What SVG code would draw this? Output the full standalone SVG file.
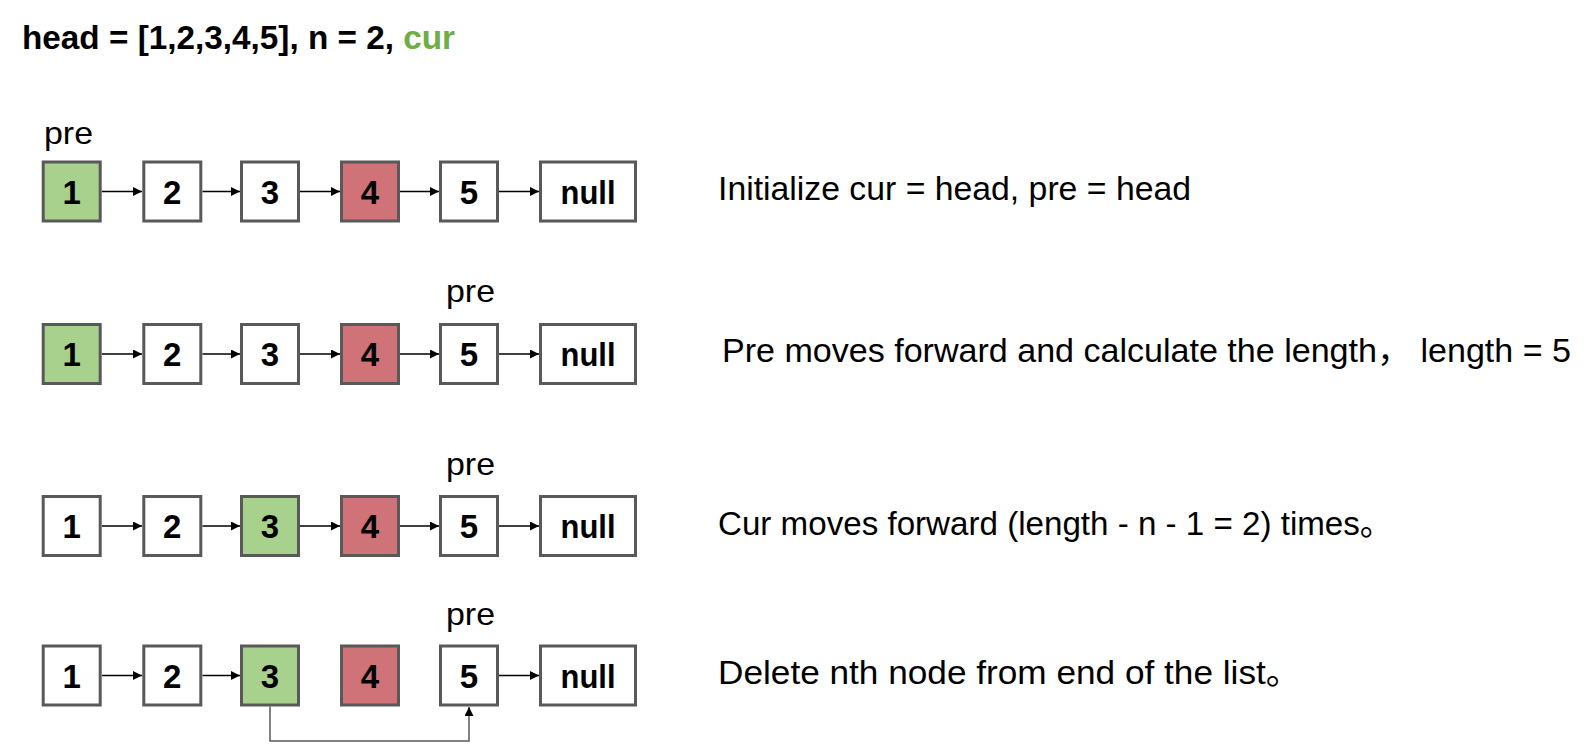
<svg xmlns="http://www.w3.org/2000/svg" width="1594" height="744" viewBox="0 0 1594 744">
<defs>
<style>
.box{stroke:#595959;stroke-width:3;fill:#ffffff}
.g{fill:#a9d18e}
.r{fill:#cf7378}
.lbl{font-family:"Liberation Sans","Noto Sans CJK SC",sans-serif;font-weight:bold;font-size:33px;text-anchor:middle;fill:#000}
.pre{font-family:"Liberation Sans",sans-serif;font-size:32px;fill:#000}
.desc{font-family:"Liberation Sans","Noto Sans CJK SC",sans-serif;font-size:34px;fill:#000}
.hd{font-family:"Liberation Sans",sans-serif;font-weight:bold;font-size:33px;fill:#000}
.ar{stroke:#000;stroke-width:1.4;fill:none;marker-end:url(#ah)}
.by{stroke:#595959;stroke-width:1.5;fill:none;marker-end:url(#ah)}
</style>
<marker id="ah" viewBox="0 0 10 10" refX="10" refY="5" markerWidth="9" markerHeight="9" markerUnits="userSpaceOnUse" orient="auto">
<path d="M0,0 L10,5 L0,10 z" fill="#000"/>
</marker>
</defs>
<rect width="1594" height="744" fill="#fff"/>
<text class="hd" x="22" y="49" textLength="433" lengthAdjust="spacingAndGlyphs">head = [1,2,3,4,5], n = 2, <tspan fill="#70ad47">cur</tspan></text>

<!-- Row 1 -->
<g id="row1">
<text class="pre" x="44" y="144" textLength="49" lengthAdjust="spacingAndGlyphs">pre</text>
<g id="r1n1"><rect class="box g" x="43.2" y="162" width="57" height="59"/><text class="lbl" x="71.7" y="203.5">1</text></g>
<g id="r1n2"><rect class="box" x="143.8" y="162" width="57" height="59"/><text class="lbl" x="172.3" y="203.5">2</text></g>
<g id="r1n3"><rect class="box" x="241.5" y="162" width="57" height="59"/><text class="lbl" x="270" y="203.5">3</text></g>
<g id="r1n4"><rect class="box r" x="341.5" y="162" width="57" height="59"/><text class="lbl" x="370" y="203.5">4</text></g>
<g id="r1n5"><rect class="box" x="440.5" y="162" width="57" height="59"/><text class="lbl" x="469" y="203.5">5</text></g>
<g id="r1null"><rect class="box" x="540.5" y="162" width="95" height="59"/><text class="lbl" x="588" y="203.5" textLength="55" lengthAdjust="spacingAndGlyphs">null</text></g>
<text class="desc" x="718" y="200" textLength="473" lengthAdjust="spacingAndGlyphs">Initialize cur = head, pre = head</text>
</g>

<!-- Row 2 -->
<g id="row2">
<text class="pre" x="446" y="302" textLength="49" lengthAdjust="spacingAndGlyphs">pre</text>
<g id="r2n1"><rect class="box g" x="43.2" y="324.5" width="57" height="59"/><text class="lbl" x="71.7" y="366">1</text></g>
<g id="r2n2"><rect class="box" x="143.8" y="324.5" width="57" height="59"/><text class="lbl" x="172.3" y="366">2</text></g>
<g id="r2n3"><rect class="box" x="241.5" y="324.5" width="57" height="59"/><text class="lbl" x="270" y="366">3</text></g>
<g id="r2n4"><rect class="box r" x="341.5" y="324.5" width="57" height="59"/><text class="lbl" x="370" y="366">4</text></g>
<g id="r2n5"><rect class="box" x="440.5" y="324.5" width="57" height="59"/><text class="lbl" x="469" y="366">5</text></g>
<g id="r2null"><rect class="box" x="540.5" y="324.5" width="95" height="59"/><text class="lbl" x="588" y="366" textLength="55" lengthAdjust="spacingAndGlyphs">null</text></g>
<text class="desc" x="722" y="362" textLength="849" lengthAdjust="spacingAndGlyphs">Pre moves forward and calculate the length，  length = 5</text>
</g>

<!-- Row 3 -->
<g id="row3">
<text class="pre" x="446" y="475" textLength="49" lengthAdjust="spacingAndGlyphs">pre</text>
<g id="r3n1"><rect class="box" x="43.2" y="496.5" width="57" height="59"/><text class="lbl" x="71.7" y="538">1</text></g>
<g id="r3n2"><rect class="box" x="143.8" y="496.5" width="57" height="59"/><text class="lbl" x="172.3" y="538">2</text></g>
<g id="r3n3"><rect class="box g" x="241.5" y="496.5" width="57" height="59"/><text class="lbl" x="270" y="538">3</text></g>
<g id="r3n4"><rect class="box r" x="341.5" y="496.5" width="57" height="59"/><text class="lbl" x="370" y="538">4</text></g>
<g id="r3n5"><rect class="box" x="440.5" y="496.5" width="57" height="59"/><text class="lbl" x="469" y="538">5</text></g>
<g id="r3null"><rect class="box" x="540.5" y="496.5" width="95" height="59"/><text class="lbl" x="588" y="538" textLength="55" lengthAdjust="spacingAndGlyphs">null</text></g>
<text class="desc" x="718" y="535" textLength="675" lengthAdjust="spacingAndGlyphs">Cur moves forward (length - n - 1 = 2) times。</text>
</g>

<!-- Row 4 -->
<g id="row4">
<text class="pre" x="446" y="625" textLength="49" lengthAdjust="spacingAndGlyphs">pre</text>
<g id="r4n1"><rect class="box" x="43.2" y="646" width="57" height="59"/><text class="lbl" x="71.7" y="687.5">1</text></g>
<g id="r4n2"><rect class="box" x="143.8" y="646" width="57" height="59"/><text class="lbl" x="172.3" y="687.5">2</text></g>
<g id="r4n3"><rect class="box g" x="241.5" y="646" width="57" height="59"/><text class="lbl" x="270" y="687.5">3</text></g>
<g id="r4n4"><rect class="box r" x="341.5" y="646" width="57" height="59"/><text class="lbl" x="370" y="687.5">4</text></g>
<g id="r4n5"><rect class="box" x="440.5" y="646" width="57" height="59"/><text class="lbl" x="469" y="687.5">5</text></g>
<g id="r4null"><rect class="box" x="540.5" y="646" width="95" height="59"/><text class="lbl" x="588" y="687.5" textLength="55" lengthAdjust="spacingAndGlyphs">null</text></g>
<text class="desc" x="718" y="684" textLength="583" lengthAdjust="spacingAndGlyphs">Delete nth node from end of the list。</text>
</g>

<g id="connectors">
<!-- row 1 -->
<line class="ar" x1="102" y1="191.5" x2="142" y2="191.5"/>
<line class="ar" x1="202.5" y1="191.5" x2="240" y2="191.5"/>
<line class="ar" x1="300" y1="191.5" x2="340" y2="191.5"/>
<line class="ar" x1="400" y1="191.5" x2="439" y2="191.5"/>
<line class="ar" x1="499" y1="191.5" x2="539" y2="191.5"/>
<!-- row 2 -->
<line class="ar" x1="102" y1="354" x2="142" y2="354"/>
<line class="ar" x1="202.5" y1="354" x2="240" y2="354"/>
<line class="ar" x1="300" y1="354" x2="340" y2="354"/>
<line class="ar" x1="400" y1="354" x2="439" y2="354"/>
<line class="ar" x1="499" y1="354" x2="539" y2="354"/>
<!-- row 3 -->
<line class="ar" x1="102" y1="526" x2="142" y2="526"/>
<line class="ar" x1="202.5" y1="526" x2="240" y2="526"/>
<line class="ar" x1="300" y1="526" x2="340" y2="526"/>
<line class="ar" x1="400" y1="526" x2="439" y2="526"/>
<line class="ar" x1="499" y1="526" x2="539" y2="526"/>
<!-- row 4 -->
<line class="ar" x1="102" y1="675.5" x2="142" y2="675.5"/>
<line class="ar" x1="202.5" y1="675.5" x2="240" y2="675.5"/>
<line class="ar" x1="499" y1="675.5" x2="539" y2="675.5"/>
<polyline class="by" points="270,706.5 270,741 469,741 469,707"/>
</g>
</svg>
